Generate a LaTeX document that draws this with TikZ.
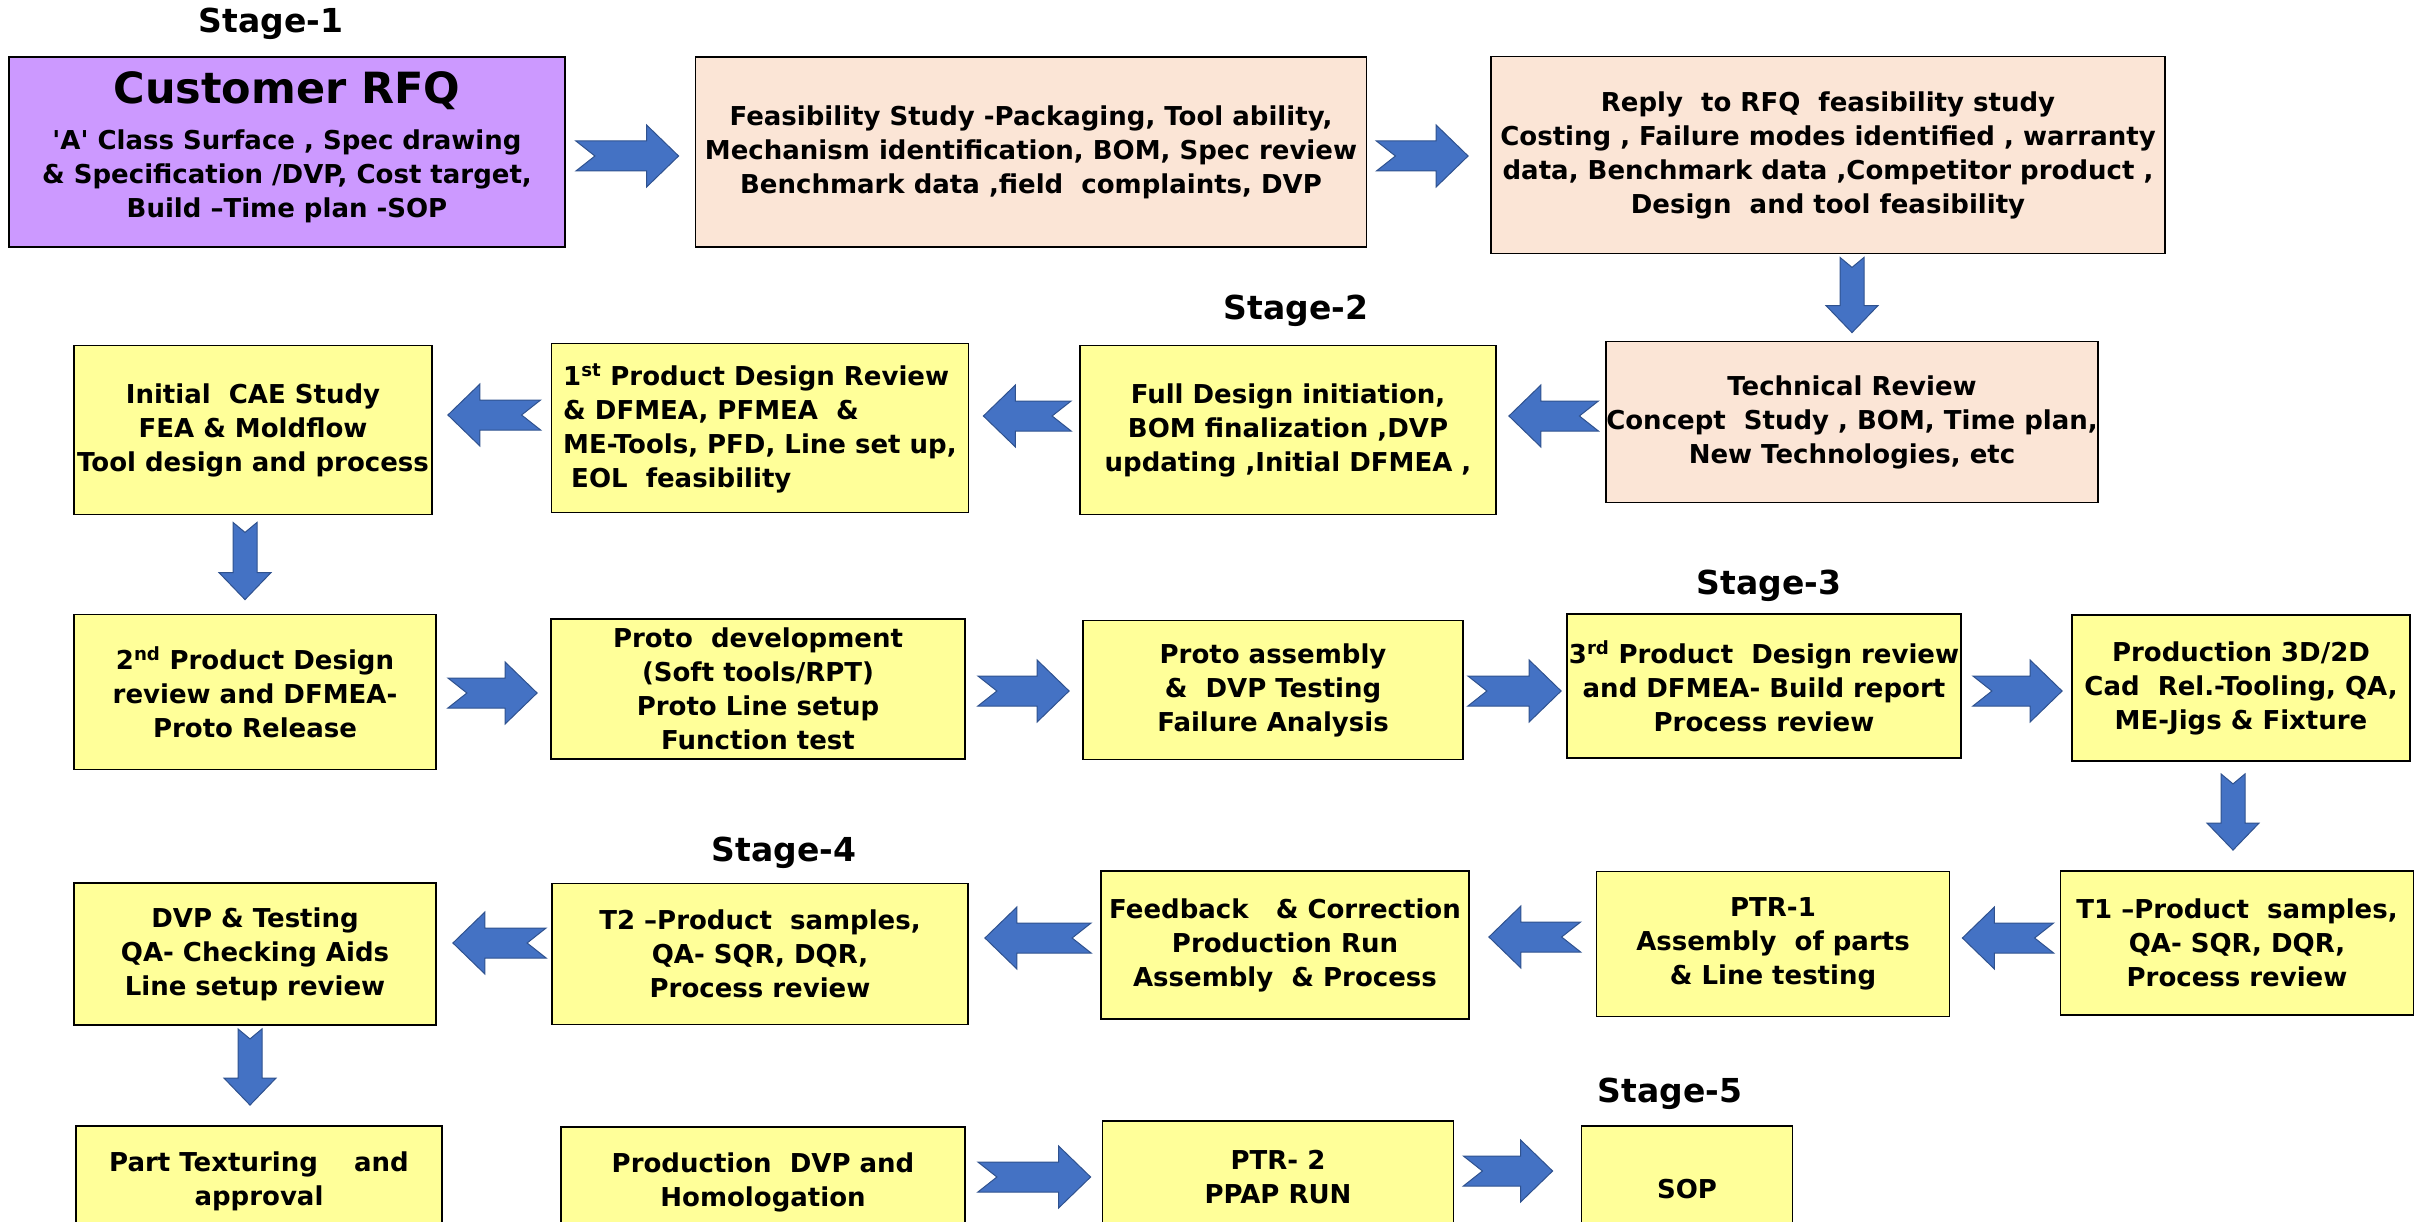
\documentclass[tikz,border=0pt]{standalone}
\usepackage{fontspec}
\setmainfont{DejaVu Sans}
\usetikzlibrary{calc}

\definecolor{rfqpurple}{HTML}{CC99FF}
\definecolor{reviewpeach}{HTML}{FBE5D6}
\definecolor{stepyellow}{HTML}{FFFF99}
\definecolor{arrowblue}{HTML}{4472C4}
\definecolor{arrowedge}{HTML}{2F528F}

\newcommand{\boxfont}{\fontsize{26}{34}\selectfont\bfseries}
\newcommand{\stagefont}{\fontsize{33}{40}\selectfont\bfseries}

\tikzset{
  box/.style={draw=black, line width=1.8pt, align=center, font=\boxfont, inner sep=0pt},
  rfqbox/.style={box, fill=rfqpurple},
  peachbox/.style={box, fill=reviewpeach},
  yellowbox/.style={box, fill=stepyellow},
  stagelabel/.style={font=\stagefont, inner sep=0pt},
  % head half width, shaft half width, head length, notch depth
  block arrow/.style n args={4}{fill=arrowblue, draw=arrowedge, line width=1pt,
    to path={let \p1=(\tikztostart), \p2=(\tikztotarget),
      \n1={veclen(\x2-\x1,\y2-\y1)}, \n2={(\x2-\x1)/\n1}, \n3={(\y2-\y1)/\n1} in
      ({\x1-#2*\n3},{\y1+#2*\n2})
      -- ({\x1+(\n1-#3)*\n2-#2*\n3},{\y1+(\n1-#3)*\n3+#2*\n2})
      -- ({\x1+(\n1-#3)*\n2-#1*\n3},{\y1+(\n1-#3)*\n3+#1*\n2})
      -- (\p2)
      -- ({\x1+(\n1-#3)*\n2+#1*\n3},{\y1+(\n1-#3)*\n3-#1*\n2})
      -- ({\x1+(\n1-#3)*\n2+#2*\n3},{\y1+(\n1-#3)*\n3-#2*\n2})
      -- ({\x1+#2*\n3},{\y1-#2*\n2})
      -- ({\x1+#4*\n2},{\y1+#4*\n3})
      -- cycle}},
  harrow/.style={block arrow={31}{15}{32}{19}},
  varrow/.style={block arrow={26}{12}{27}{10}},
}

\begin{document}
\begin{tikzpicture}[x=1pt, y=-1pt]

    \useasboundingbox (0,0) rectangle (2425,1222);
    \clip (0,0) rectangle (2425,1222);

    % Stage headings
    \node[stagelabel] (stage1) at (271,24) {Stage-1};
    \node[stagelabel] (stage2) at (1296,311) {Stage-2};
    \node[stagelabel] (stage3) at (1769,586) {Stage-3};
    \node[stagelabel] (stage4) at (784,853) {Stage-4};
    \node[stagelabel] (stage5) at (1670,1094) {Stage-5};

    % Row 1: RFQ and feasibility
    \node[rfqbox, minimum width=556, minimum height=190] (rfq) at (287,152)
      {{\fontsize{43}{50}\selectfont Customer RFQ}\\[12pt]
       \textquotesingle A\textquotesingle{} Class Surface , Spec drawing\\
       \& Specification /DVP, Cost target,\\
       Build –Time plan -SOP\\[-20pt]
       \mbox{}};
    \node[peachbox, minimum width=671, minimum height=190] (feas) at (1031,152)
      {Feasibility Study -Packaging, Tool ability,\\
       Mechanism identification, BOM, Spec review\\
       Benchmark data ,field~ complaints, DVP};
    \node[peachbox, minimum width=674, minimum height=197] (reply) at (1828,155)
      {Reply~ to RFQ~ feasibility study\\
       Costing , Failure modes identified , warranty\\
       data, Benchmark data ,Competitor product ,\\
       Design~ and tool feasibility};

    % Row 2
    \node[peachbox, minimum width=488, minimum height=161] (tech) at (1852,422)
      {Technical Review\\
       Concept~ Study , BOM, Time plan,\\
       New Technologies, etc};
    \node[yellowbox, minimum width=416, minimum height=169] (full) at (1288,430)
      {Full Design initiation,\\
       BOM finalization ,DVP\\
       updating ,Initial DFMEA ,};
    \node[yellowbox, minimum width=417, minimum height=169, align=left] (rev1) at (760,428)
      {1\textsuperscript{st} Product Design Review\\
       \& DFMEA, PFMEA~ \&\\
       ME-Tools, PFD, Line set up,\\
       \hspace*{8pt}EOL~ feasibility};
    \node[yellowbox, minimum width=358, minimum height=169] (cae) at (253,430)
      {Initial~ CAE Study\\
       FEA \& Moldflow\\
       Tool design and process};

    % Row 3
    \node[yellowbox, minimum width=362, minimum height=155] (rev2) at (255,692)
      {2\textsuperscript{nd} Product Design\\
       review and DFMEA-\\
       Proto Release};
    \node[yellowbox, minimum width=414, minimum height=140] (proto) at (758,689)
      {Proto~ development\\
       (Soft tools/RPT)\\
       Proto Line setup\\
       Function test};
    \node[yellowbox, minimum width=380, minimum height=139] (assy) at (1273,690)
      {Proto assembly\\
       \&~ DVP Testing\\
       Failure Analysis};
    \node[yellowbox, minimum width=394, minimum height=144] (rev3) at (1764,686)
      {3\textsuperscript{rd} Product~ Design review\\
       and DFMEA- Build report\\
       Process review};
    \node[yellowbox, minimum width=338, minimum height=146] (prod) at (2241,688)
      {Production 3D/2D\\
       Cad~ Rel.-Tooling, QA,\\
       ME-Jigs \& Fixture};

    % Row 4
    \node[yellowbox, minimum width=353, minimum height=144] (t1) at (2237,943)
      {T1 –Product~ samples,\\
       QA- SQR, DQR,\\
       Process review};
    \node[yellowbox, minimum width=353, minimum height=145] (ptr1) at (1773,944)
      {PTR-1\\
       Assembly~ of parts\\
       \& Line testing};
    \node[yellowbox, minimum width=368, minimum height=148] (fback) at (1285,945)
      {Feedback~~ \& Correction\\
       Production Run\\
       Assembly~ \& Process};
    \node[yellowbox, minimum width=416, minimum height=141] (t2) at (760,954)
      {T2 –Product~ samples,\\
       QA- SQR, DQR,\\
       Process review};
    \node[yellowbox, minimum width=362, minimum height=142] (dvp) at (255,954)
      {DVP \& Testing\\
       QA- Checking Aids\\
       Line setup review};

    % Row 5 (runs off the bottom edge)
    \node[yellowbox, minimum width=366, minimum height=110] (tex) at (259,1181)
      {Part Texturing~~~ and\\
       approval};
    \node[yellowbox, minimum width=404, minimum height=110] (pdvp) at (763,1182)
      {Production~ DVP and\\
       Homologation};
    \node[yellowbox, minimum width=351, minimum height=112] (ptr2) at (1278,1177)
      {PTR- 2\\
       PPAP RUN};
    \node[yellowbox, minimum width=211, minimum height=126] (sop) at (1687,1189)
      {SOP};

    % Block arrows between the steps
    \draw[harrow] ($(rfq.east)+(10,4)$) to ($(rfq.east -| feas.west)+(-16,4)$);
    \draw[harrow] ($(feas.east)+(9,4)$) to ($(feas.east -| reply.west)+(-22,4)$);
    \draw[varrow] ($(tech.north |- reply.south)+(0,3)$) to ($(tech.north)+(0,-8)$);

    \draw[harrow] ($(tech.west)+(-7,-6)$) to ($(tech.west -| full.east)+(12,-6)$);
    \draw[harrow] ($(full.west)+(-8,-14)$) to ($(full.west -| rev1.east)+(14,-14)$);
    \draw[harrow] ($(rev1.west)+(-10,-13)$) to ($(rev1.west -| cae.east)+(15,-13)$);
    \draw[varrow] ($(cae.south)+(-8,7)$) to ($(cae.south |- rev2.north)+(-8,-14)$);

    \draw[harrow] ($(rev2.east)+(11,1)$) to ($(rev2.east -| proto.west)+(-13,1)$);
    \draw[harrow] ($(proto.east)+(12,2)$) to ($(proto.east -| assy.west)+(-13,2)$);
    \draw[harrow] ($(assy.east)+(4,1)$) to ($(assy.east -| rev3.west)+(-5,1)$);
    \draw[harrow] ($(rev3.east)+(11,5)$) to ($(rev3.east -| prod.west)+(-9,5)$);
    \draw[varrow] ($(prod.south)+(-8,12)$) to ($(prod.south |- t1.north)+(-8,-20)$);

    \draw[harrow] ($(t1.west)+(-6,-5)$) to ($(t1.west -| ptr1.east)+(12,-5)$);
    \draw[harrow] ($(ptr1.west)+(-15,-7)$) to ($(ptr1.west -| fback.east)+(19,-7)$);
    \draw[harrow] ($(fback.west)+(-9,-7)$) to ($(fback.west -| t2.east)+(16,-7)$);
    \draw[harrow] ($(t2.west)+(-5,-11)$) to ($(t2.west -| dvp.east)+(16,-11)$);
    \draw[varrow] ($(dvp.south)+(-5,3)$) to ($(dvp.south |- tex.north)+(-5,-20)$);

    \draw[harrow] ($(pdvp.east)+(12,-5)$) to ($(pdvp.east -| ptr2.west)+(-11,-5)$);
    \draw[harrow] ($(ptr2.east)+(9,-6)$) to ($(ptr2.east -| sop.west)+(-28,-6)$);
\end{tikzpicture}
\end{document}
